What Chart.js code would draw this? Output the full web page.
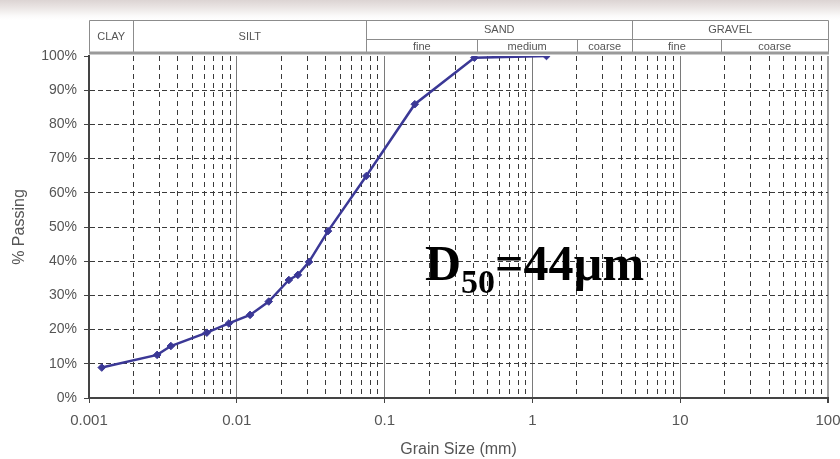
<!DOCTYPE html>
<html>
<head>
<meta charset="utf-8">
<title>Grain Size Distribution</title>
<script src="https://cdn.jsdelivr.net/npm/chart.js@4.4.1/dist/chart.umd.min.js"></script>
<style>
  html, body { margin: 0; padding: 0; }
  body {
    width: 840px; height: 459px; overflow: hidden;
    background: linear-gradient(to bottom, #dcd4d3 0px, #ebe6e5 8px, #fbfafa 16px, #ffffff 20px);
  }
  #wrap { position: relative; width: 840px; height: 459px; }
  canvas { display: block; }
</style>
</head>
<body>
<div id="wrap"><canvas id="grading" width="840" height="459"></canvas></div>
<script>
// Sieve / hydrometer results: grain size (mm) and cumulative percent passing
const grainSize      = [0.00122, 0.00289, 0.00358, 0.00627, 0.00883, 0.0123, 0.01645, 0.0225, 0.0259, 0.0308, 0.0414, 0.0752, 0.16, 0.405, 1.245];
const percentPassing = [8.9, 12.6, 15.2, 19.1, 21.8, 24.3, 28.2, 34.5, 36.0, 39.8, 48.8, 64.9, 85.9, 99.5, 100];

// Axis ticks
const decadeTicks  = [0.001, 0.01, 0.1, 1, 10, 100];
const decadeLabels = ['0.001', '0.01', '0.1', '1', '10', '100'];
const minorTicks = [];
for (let d = 0; d < decadeTicks.length - 1; d++) {
  for (let m = 2; m <= 9; m++) minorTicks.push(decadeTicks[d] * m);
}
const passingLabels = ['0%', '10%', '20%', '30%', '40%', '50%', '60%', '70%', '80%', '90%', '100%'];

// Soil classification bands (mm)
const mainClasses  = ['CLAY', 'SILT', 'SAND', 'GRAVEL'];
const mainBounds   = [0.001, 0.002, 0.075, 4.75, 100];
const subClasses   = ['fine', 'medium', 'coarse', 'fine', 'coarse'];
const subBounds    = [0.075, 0.425, 2, 4.75, 19, 100];

const d50Parts = ['D', '50', '=44\u00b5m'];

const SANS = '"Liberation Sans", Arial, sans-serif';
const SERIF = '"Liberation Serif", "Times New Roman", serif';

// Classification header drawn above the plot area
const headerPlugin = {
  id: 'classHeader',
  afterDraw(chart) {
    const { ctx, chartArea: { left, right, top }, scales: { x } } = chart;
    const y0 = top - 36, yMid = top - 17, y1 = top - 3;
    const px = v => x.getPixelForValue(v);
    ctx.save();
    ctx.fillStyle = '#ffffff';
    ctx.fillRect(left, y0, right - left, y1 - y0);
    ctx.strokeStyle = '#8c8c8c';
    ctx.lineWidth = 1;
    ctx.beginPath();
    ctx.moveTo(left + 0.5, y1); ctx.lineTo(left + 0.5, y0 + 0.5);
    ctx.lineTo(right + 0.5, y0 + 0.5); ctx.lineTo(right + 0.5, y1);
    // main class separators
    for (let i = 1; i < mainBounds.length - 1; i++) {
      const xx = Math.round(px(mainBounds[i])) + 0.5;
      ctx.moveTo(xx, y0); ctx.lineTo(xx, y1);
    }
    // row split under SAND / GRAVEL
    ctx.moveTo(Math.round(px(subBounds[0])), yMid + 0.5); ctx.lineTo(right, yMid + 0.5);
    for (let i = 1; i < subBounds.length - 1; i++) {
      const xx = Math.round(px(subBounds[i])) + 0.5;
      ctx.moveTo(xx, yMid); ctx.lineTo(xx, y1);
    }
    ctx.stroke();
    // heavy lower rule
    ctx.fillStyle = '#9a9a9a';
    ctx.fillRect(left, y1 - 1.5, right - left + 1, 3);

    ctx.fillStyle = '#555555';
    ctx.font = '11px ' + SANS;
    ctx.textAlign = 'center';
    ctx.textBaseline = 'middle';
    for (let i = 0; i < mainClasses.length; i++) {
      const cx = (px(mainBounds[i]) + px(mainBounds[i + 1])) / 2;
      const cy = i < 2 ? (y0 + y1) / 2 : (y0 + yMid) / 2;
      ctx.fillText(mainClasses[i], cx, cy + 0.5);
    }
    for (let i = 0; i < subClasses.length; i++) {
      const cx = (px(subBounds[i]) + px(subBounds[i + 1])) / 2;
      ctx.fillText(subClasses[i], cx, (yMid + y1) / 2 + 0.5);
    }

    // D50 annotation
    ctx.fillStyle = '#000000';
    ctx.textAlign = 'left';
    ctx.textBaseline = 'alphabetic';
    let tx = 425;
    const base = 280;
    ctx.font = 'bold 50px ' + SERIF;
    ctx.fillText(d50Parts[0], tx, base);
    tx += ctx.measureText(d50Parts[0]).width;
    ctx.font = 'bold 34px ' + SERIF;
    ctx.fillText(d50Parts[1], tx, base + 13);
    tx += ctx.measureText(d50Parts[1]).width;
    ctx.font = 'bold 50px ' + SERIF;
    ctx.fillText(d50Parts[2], tx, base);
    ctx.restore();
  }
};

const points = grainSize.map((g, i) => ({ x: g, y: percentPassing[i] }));

new Chart(document.getElementById('grading'), {
  type: 'line',
  data: {
    datasets: [{
      data: points,
      xAxisID: 'x',
      borderColor: '#3b3896',
      backgroundColor: '#3b3896',
      borderWidth: 2.5,
      pointStyle: 'rectRot',
      pointRadius: 3.8,
      pointBorderWidth: 1,
      pointBackgroundColor: '#3b3896',
      pointBorderColor: '#3b3896',
      tension: 0,
      fill: false
    }]
  },
  options: {
    responsive: false,
    animation: false,
    devicePixelRatio: 1,
    layout: { padding: { top: 56, right: 12, bottom: 0, left: 0 } },
    plugins: { legend: { display: false }, tooltip: { enabled: false } },
    scales: {
      x: {
        type: 'logarithmic',
        position: 'bottom',
        min: 0.001, max: 100,
        afterBuildTicks: s => { s.ticks = decadeTicks.map(v => ({ value: v })); },
        afterFit: s => { s.height = 61; s.paddingLeft = 0; s.paddingRight = 0; },
        ticks: {
          autoSkip: false, maxRotation: 0, padding: 9,
          color: '#555555', font: { size: 15, family: SANS },
          callback: (v, i) => decadeLabels[i]
        },
        grid: {
          color: c => (c.tick && c.tick.value === 100) ? '#a0a0a0' : '#7a7a7a',
          lineWidth: c => (c.tick && c.tick.value === 100) ? 2 : 1,
          tickLength: 5, tickColor: '#444444'
        },
        border: { color: '#444444', width: 2 },
        title: {
          display: true, text: 'Grain Size (mm)', color: '#555555',
          font: { size: 16, family: SANS }, padding: { top: 10, bottom: 0 }
        }
      },
      xMinor: {
        type: 'logarithmic',
        position: 'bottom',
        min: 0.001, max: 100,
        afterBuildTicks: s => { s.ticks = minorTicks.map(v => ({ value: v })); },
        ticks: { display: false },
        grid: { color: '#3a3a3a', lineWidth: 1, drawTicks: false },
        border: { display: false, dash: [5, 4] }
      },
      y: {
        min: 0, max: 100,
        afterFit: s => { s.width = 89; },
        ticks: {
          stepSize: 10, padding: 7,
          color: '#555555', font: { size: 14, family: SANS },
          callback: (v, i) => passingLabels[i]
        },
        grid: {
          color: c => (c.tick && (c.tick.value === 0 || c.tick.value === 100)) ? 'rgba(0,0,0,0)' : '#3a3a3a',
          lineWidth: 1, tickLength: 5, tickColor: '#444444'
        },
        border: { color: '#444444', width: 2, dash: [5, 3] },
        title: {
          display: true, text: '% Passing', color: '#555555',
          font: { size: 16, family: SANS }, padding: { top: 10, bottom: 0 }
        }
      }
    }
  },
  plugins: [headerPlugin]
});
</script>
</body>
</html>
